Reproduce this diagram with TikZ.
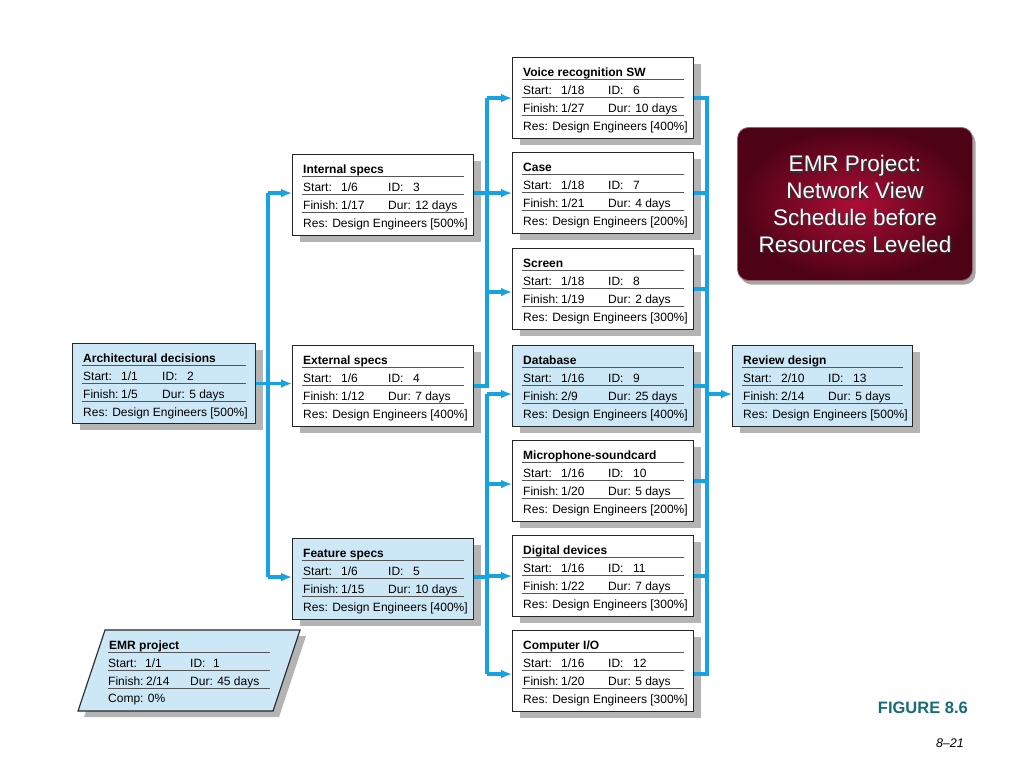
\documentclass[tikz,border=0pt]{standalone}
\usepackage{fontspec}
\setmainfont{Liberation Sans}
\usetikzlibrary{calc,arrows.meta,shadows}
\definecolor{boxblue}{RGB}{204,232,247}
\definecolor{wirec}{RGB}{22,163,226}
\definecolor{shadowc}{RGB}{180,180,180}
\definecolor{sepc}{RGB}{85,85,85}
\definecolor{figc}{RGB}{24,108,118}
\definecolor{redin}{RGB}{172,14,54}
\definecolor{redout}{RGB}{78,2,22}
\newcommand{\colB}{95}
% #1 box options, #2 name, #3 position (top left), #4 title, #5 start, #6 id, #7 finish, #8 dur, #9 res
\newcommand{\taskbox}[9][fill=white]{%
  \node[taskbox,#1] (#2) at (#3) {};
  \node[tt] (#2-t) at ($(#2.north west)+(11,19)$) {\bfseries #4};
  \draw[sep] ($(#2.north west)+(10,22)$) -- ($(#2.north east)+(-10,22)$);
  \node[tt] (#2-s) at ($(#2.north west)+(11,37)$) {Start:};
  \node[tt] (#2-sv) at ($(#2.north west)+(49,37)$) {#5};
  \node[tt] (#2-i) at ($(#2.north west)+(\colB,37)$) {ID:};
  \node[tt] (#2-iv) at ($(#2.north west)+(\colB+25,37)$) {#6};
  \draw[sep] ($(#2.north west)+(10,40)$) -- ($(#2.north east)+(-10,40)$);
  \node[tt] (#2-f) at ($(#2.north west)+(11,55)$) {Finish:};
  \node[tt] (#2-fv) at ($(#2.north west)+(49,55)$) {#7};
  \node[tt] (#2-d) at ($(#2.north west)+(\colB,55)$) {Dur: #8};
  \draw[sep] ($(#2.north west)+(10,58)$) -- ($(#2.north east)+(-10,58)$);
  \node[tt] (#2-r) at ($(#2.north west)+(11,73)$) {Res: Design Engineers [#9]};
}
\begin{document}
\begin{tikzpicture}[x=1pt,y=-1pt,
  taskbox/.style={draw=black!85, line width=1.1pt, anchor=north west,
    minimum width=181pt, minimum height=81pt, inner sep=0pt,
    drop shadow={shadow xshift=7pt, shadow yshift=-6pt, fill=shadowc, opacity=1}},
  tt/.style={anchor=base west, inner sep=0pt, font=\fontsize{12}{14}\selectfont},
  sep/.style={draw=sepc, line width=0.9pt},
  wire/.style={draw=wirec, line width=3.2pt},
  arr/.style={wire, -{Latex[length=11pt,width=9pt]}},
  titlebox/.style={minimum width=235pt, minimum height=153pt, rounded corners=11pt,
    inner sep=0pt, inner color=redin, outer color=redout, draw=redout!60!white,
    line width=0.8pt, drop shadow={shadow xshift=3pt, shadow yshift=-4pt, fill=black!35, opacity=1}},
  ttl/.style={align=center, inner sep=0pt, font=\fontsize{22.5}{26.7}\selectfont}
]
\useasboundingbox (0,0) rectangle (1024,768);
\fill[white] (0,0) rectangle (1024,768);

% ---------- task boxes ----------
\renewcommand{\colB}{90}
\taskbox[fill=boxblue, minimum width=183pt, minimum height=80pt]{arch}{72,343}{Architectural decisions}{1/1}{2}{1/5}{5 days}{500\%}
\renewcommand{\colB}{96}
\taskbox{int}{292,154}{Internal specs}{1/6}{3}{1/17}{12 days}{500\%}
\taskbox{ext}{292,345}{External specs}{1/6}{4}{1/12}{7 days}{400\%}
\taskbox[fill=boxblue]{feat}{292,538}{Feature specs}{1/6}{5}{1/15}{10 days}{400\%}
\taskbox{voice}{512,57}{Voice recognition SW}{1/18}{6}{1/27}{10 days}{400\%}
\taskbox{case}{512,152}{Case}{1/18}{7}{1/21}{4 days}{200\%}
\taskbox{screen}{512,248}{Screen}{1/18}{8}{1/19}{2 days}{300\%}
\taskbox[fill=boxblue]{db}{512,345}{Database}{1/16}{9}{2/9}{25 days}{400\%}
\taskbox{mic}{512,440}{Microphone-soundcard}{1/16}{10}{1/20}{5 days}{200\%}
\taskbox{dig}{512,535}{Digital devices}{1/16}{11}{1/22}{7 days}{300\%}
\taskbox{cio}{512,630}{Computer I/O}{1/16}{12}{1/20}{5 days}{300\%}
\taskbox[fill=boxblue, minimum width=180pt]{rev}{732,345}{Review design}{2/10}{13}{2/14}{5 days}{500\%}

% ---------- connectors ----------
\coordinate (busA) at (268,0);
\coordinate (busB) at (487,0);
\coordinate (busD) at (707,0);
\coordinate (intin) at ($(int.west)+(0,-2)$);
\coordinate (featin) at ($(feat.west)+(0,-2)$);
\coordinate (scrin) at ($(screen.west)+(0,3)$);
\coordinate (dbin) at ($(db.west)+(0,8)$);
\coordinate (micin) at ($(mic.west)+(0,3)$);
\coordinate (cioin) at ($(cio.west)+(0,3)$);
\coordinate (cioout) at ($(cio.east)+(0,3)$);
\coordinate (revin) at ($(rev.west)+(0,8)$);

% Architectural decisions -> specs
\draw[wire] (busA |- intin) -- (busA |- featin);
\draw[arr] (arch.east) -- (arch.east -| ext.west);
\draw[arr] (busA |- intin) -- (intin);
\draw[arr] (busA |- featin) -- (featin);

% Internal / External specs -> upper bus
\draw[wire] (int.east |- intin) -- (busB |- intin);
\draw[wire] (ext.east) -- (busB |- ext.east) -- (busB |- voice.west);
\draw[arr] (busB |- voice.west) -- (voice.west);
\draw[arr] (busB |- case.west) -- (case.west);
\draw[arr] (busB |- scrin) -- (scrin);

% Feature specs -> lower bus
\draw[wire] (feat.east |- featin) -- (busB |- featin);
\draw[wire] (busB |- dbin) -- (busB |- cioin);
\draw[arr] (busB |- dbin) -- (dbin);
\draw[arr] (busB |- micin) -- (micin);
\draw[arr] (busB |- dig.west) -- (dig.west);
\draw[arr] (busB |- cioin) -- (cioin);

% Column 3 -> Review design
\draw[wire] (voice.east) -- (busD |- voice.east) -- (busD |- cioout) -- (cioout);
\draw[wire] (case.east) -- (busD |- case.east);
\draw[wire] (screen.east) -- (busD |- screen.east);
\draw[wire] (db.east) -- (busD |- db.east);
\draw[wire] (mic.east) -- (busD |- mic.east);
\draw[wire] (dig.east) -- (busD |- dig.east);
\draw[arr] (busD |- revin) -- (revin);

% ---------- EMR project summary ----------
\fill[shadowc] (111,636) -- (306,636) -- (279,717) -- (84,717) -- cycle;
\draw[fill=boxblue, draw=black!85, line width=1.1pt] (105,630) -- (300,630) -- (273,711) -- (78,711) -- cycle;
\node[tt] (emr-t) at (109,649) {\bfseries EMR project};
\draw[sep] (108,652) -- (270,652);
\node[tt] (emr-s) at (108,667) {Start:};
\node[tt] (emr-sv) at (145,667) {1/1};
\node[tt] (emr-i) at (190,667) {ID:};
\node[tt] (emr-iv) at (213,667) {1};
\draw[sep] (108,670) -- (270,670);
\node[tt] (emr-f) at (108,685) {Finish:};
\node[tt] (emr-fv) at (146,685) {2/14};
\node[tt] (emr-d) at (190,685) {Dur: 45 days};
\draw[sep] (108,688) -- (270,688);
\node[tt] (emr-c) at (108,702) {Comp: 0\%};

% ---------- title box ----------
\node[titlebox] (title) at (855,204) {};
\node[ttl, text=black!80] (title-sh) at ($(title.center)+(1.5,1.5)$) {EMR Project:\\Network View\\Schedule before\\Resources Leveled};
\node[ttl, text=white] (title-tx) at (title.center) {EMR Project:\\Network View\\Schedule before\\Resources Leveled};

% ---------- figure labels ----------
\node[anchor=base east, inner sep=0pt, text=figc, font=\fontsize{16.5}{18}\selectfont\bfseries] (fig) at (968,713) {FIGURE 8.6};
\node[anchor=base east, inner sep=0pt, font=\fontsize{12.5}{14}\selectfont\itshape] (page) at (964,747) {8--21};
\end{tikzpicture}
\end{document}
